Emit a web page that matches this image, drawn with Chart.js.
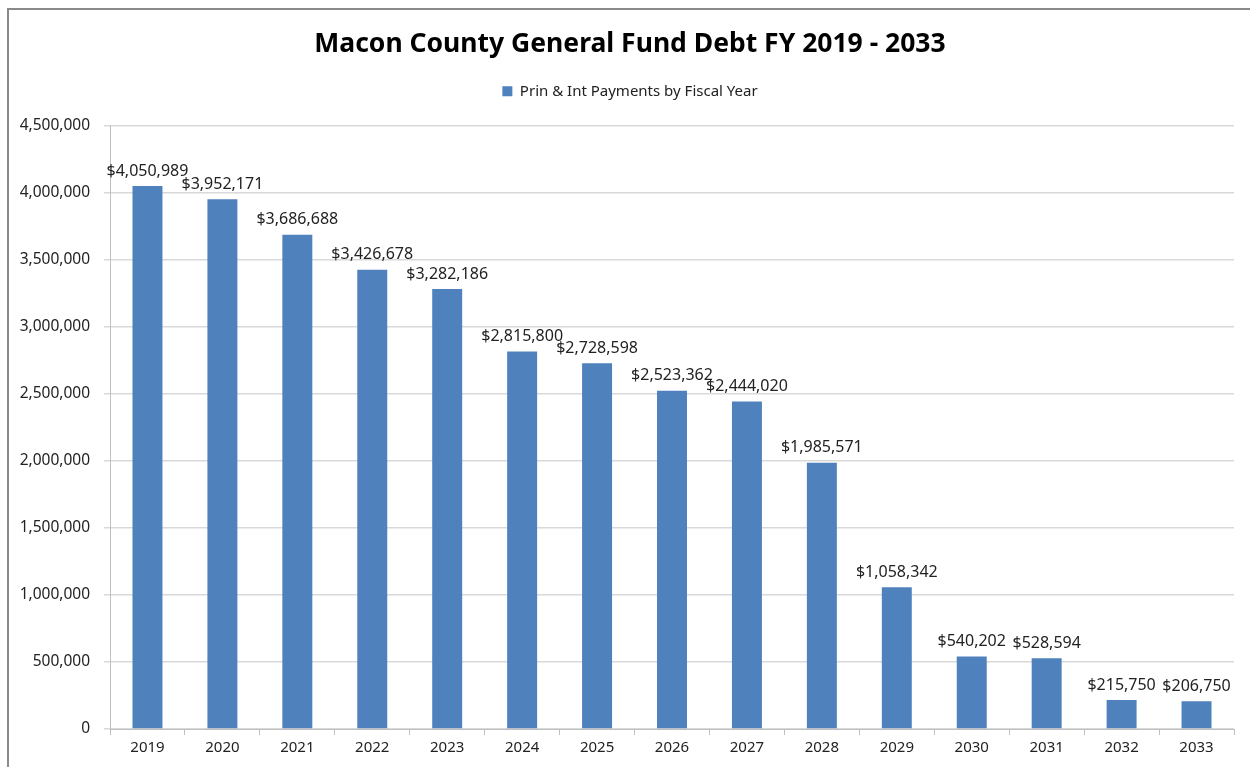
<!DOCTYPE html>
<html>
<head>
<meta charset="utf-8">
<script src="https://cdn.jsdelivr.net/npm/chart.js@4/dist/chart.umd.min.js"></script>
<style>
  html, body { margin: 0; padding: 0; background: #fff; overflow: hidden; }
  #wrap { position: relative; width: 1250px; height: 767px; }
  #frame { position: absolute; left: 7px; top: 8px; width: 1300px; height: 800px;
           border-left: 2px solid #8a8a8a; border-top: 2px solid #8a8a8a; }
  canvas { position: absolute; left: 0; top: 0; }
</style>
</head>
<body>
<div id="wrap">
  <div id="frame"></div>
  <canvas id="chart" width="1250" height="767"></canvas>
</div>
<script>
// 회계연도별 원리금 상환액
const years = ['2019', '2020', '2021', '2022', '2023', '2024', '2025', '2026',
               '2027', '2028', '2029', '2030', '2031', '2032', '2033'];
const payments = [4050989, 3952171, 3686688, 3426678, 3282186, 2815800, 2728598, 2523362,
                  2444020, 1985571, 1058342, 540202, 528594, 215750, 206750];
const yTicks = [0, 500000, 1000000, 1500000, 2000000, 2500000, 3000000, 3500000, 4000000, 4500000];

const FONT = "'Noto Sans', 'Liberation Sans', sans-serif";
const fmt = v => v.toLocaleString('en-US');

// 막대 위에 금액 표시
const barLabels = {
    id: 'barLabels',
    afterDatasetsDraw(chart) {
        const ctx = chart.ctx;
        const meta = chart.getDatasetMeta(0);
        ctx.save();
        ctx.font = '16px ' + FONT;
        ctx.fillStyle = '#222';
        ctx.textAlign = 'center';
        ctx.textBaseline = 'bottom';
        meta.data.forEach((bar, i) => {
            ctx.fillText('$' + fmt(payments[i]), bar.x, bar.y - 7);
        });
        ctx.restore();
    }
};

// 범례 아래 여백 추가 (v4에는 legend bottom padding 옵션이 없음)
const legendGap = {
    id: 'legendGap',
    beforeInit(chart) {
        const origFit = chart.legend.fit;
        chart.legend.fit = function () {
            origFit.bind(chart.legend)();
            this.height += 17;
        };
    }
};

new Chart(document.getElementById('chart'), {
    type: 'bar',
    data: {
        labels: years,
        datasets: [{
            label: 'Prin & Int Payments by Fiscal Year',
            data: payments,
            backgroundColor: '#4F81BD',
            borderWidth: 0,
            barPercentage: 0.4,
            categoryPercentage: 1.0
        }]
    },
    options: {
        responsive: false,
        animation: false,
        layout: { padding: { left: 10, right: 0, top: 0, bottom: 0 } },
        plugins: {
            title: {
                display: true,
                text: 'Macon County General Fund Debt FY 2019 - 2033',
                color: '#000',
                font: { family: FONT, size: 26.5, weight: 'bold' },
                padding: { top: 29, bottom: 13 }
            },
            legend: {
                position: 'top',
                labels: {
                    color: '#222',
                    font: { family: FONT, size: 15 },
                    boxWidth: 10,
                    boxHeight: 10,
                    padding: 10
                }
            },
            tooltip: { enabled: false }
        },
        scales: {
            x: {
                grid: { display: true, drawOnChartArea: false, offset: true, tickLength: 6, color: '#bfbfbf' },
                border: { color: '#bfbfbf' },
                ticks: { color: '#222', font: { family: FONT, size: 15 }, padding: 4, maxRotation: 0 },
                afterFit(scale) { scale.height = 38; }
            },
            y: {
                min: 0,
                max: 4500000,
                afterBuildTicks(scale) { scale.ticks = yTicks.map(v => ({ value: v })); },
                grid: { color: '#d9d9d9', tickLength: 6, lineWidth: 1.5 },
                border: { color: '#bfbfbf' },
                ticks: { color: '#222', font: { family: FONT, size: 15.5 }, padding: 14, callback: v => fmt(v) },
                afterFit(scale) { scale.width = 100; }
            },
            // 오른쪽 여백용 빈 축 (제목을 캔버스 중앙에 맞추기 위함)
            yPad: {
                position: 'right',
                display: true,
                grid: { display: false },
                border: { display: false },
                ticks: { display: false },
                afterFit(scale) { scale.width = 16; }
            }
        }
    },
    plugins: [barLabels, legendGap]
});
</script>
</body>
</html>
